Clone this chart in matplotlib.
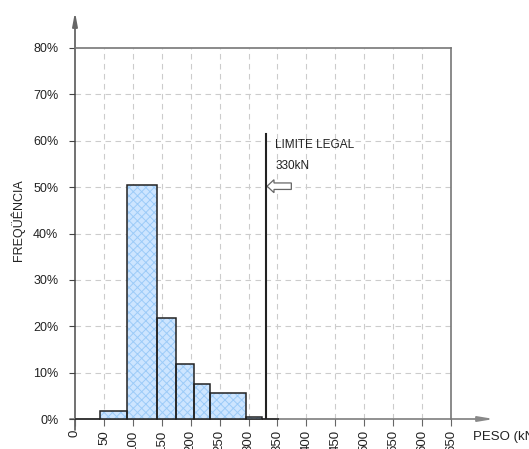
import matplotlib
matplotlib.use("Agg")
import matplotlib.pyplot as plt
from matplotlib.patches import FancyArrow

plt.rcParams['font.family'] = ['Liberation Sans', 'DejaVu Sans']
plt.rcParams['hatch.linewidth'] = 0.7

# data
bin_edges = [0, 44, 90, 142, 174, 205, 233, 295, 324, 352]
freq_pct = [0, 1.8, 50.4, 21.7, 11.8, 7.5, 5.5, 0.4, 0]
x_ticks = list(range(0, 651, 50))
x_ticklabels = [str(v) for v in x_ticks]
y_ticks = list(range(0, 81, 10))
y_ticklabels = [f"{v}%" for v in y_ticks]
limit_kn = 330
limit_top = 61.5
arrow_y = 50.2

fig = plt.figure(figsize=(5.29, 4.49), dpi=100)
ax = fig.add_axes([75/529, 1-419/449, 376/529, 371/449])
ax.set_xlim(0, 650)
ax.set_ylim(0, 80)

lefts = bin_edges[:-1]
widths = [b - a for a, b in zip(bin_edges[:-1], bin_edges[1:])]
ax.bar(lefts, freq_pct, width=widths, align='edge', facecolor='#cde5ff',
       edgecolor='#9ccbf8', hatch='xxxx', linewidth=0, zorder=2)
ax.bar(lefts, freq_pct, width=widths, align='edge', facecolor='none',
       edgecolor='#222222', linewidth=1.1, zorder=6, clip_on=False)

# grid
for v in x_ticks[1:-1]:
    ax.axvline(v, color='#cccccc', lw=0.8, ls=(0, (5, 4)), zorder=1)
for v in y_ticks[1:-1]:
    ax.axhline(v, color='#cccccc', lw=0.8, ls=(0, (5, 4)), zorder=1)

# spines
for s in ['left', 'bottom']:
    ax.spines[s].set_visible(False)
ax.spines['top'].set_color('#777777')
ax.spines['right'].set_color('#777777')
ax.spines['top'].set_linewidth(1.2)
ax.spines['right'].set_linewidth(1.2)

# axes arrows
a1 = ax.annotate('', xy=(75/529, 1-12/449), xycoords='figure fraction',
                 xytext=(75/529, 1-430/449), textcoords='figure fraction',
                 arrowprops=dict(arrowstyle='-|>,head_length=0.8,head_width=0.15',
                                 color='#666666', lw=1.3, shrinkA=0, shrinkB=0))
a2 = ax.annotate('', xy=(494/529, 1-419/449), xycoords='figure fraction',
                 xytext=(70/529, 1-419/449), textcoords='figure fraction',
                 arrowprops=dict(arrowstyle='-|>,head_length=0.9,head_width=0.15',
                                 color='#888888', lw=1.3, shrinkA=0, shrinkB=0))
a1.set_zorder(1.5)
a2.set_zorder(1.5)

ax.set_xticks(x_ticks)
ax.set_xticklabels(x_ticklabels, rotation=90, fontsize=9.5, color='#222222')
ax.set_yticks(y_ticks)
ax.set_yticklabels(y_ticklabels, fontsize=9, color='#222222')
ax.tick_params(axis='x', direction='out', length=5, color='#666666', pad=3)
ax.tick_params(axis='y', direction='out', length=4, color='#444444', pad=8)
for lab in ax.get_xticklabels():
    lab.set_verticalalignment('top')

# legal limit
ax.plot([limit_kn, limit_kn], [0, limit_top], color='#222222', lw=1.5, zorder=7)
ax.text(limit_kn + 16, 58.4, 'LIMITE LEGAL', fontsize=8.5, color='#222222')
ax.text(limit_kn + 16, 54.0, '330kN', fontsize=8.5, color='#222222')
ax.add_patch(FancyArrow(limit_kn + 44, arrow_y, -42, 0, width=1.4, head_width=2.8,
                        head_length=12, length_includes_head=True,
                        facecolor='white', edgecolor='#666666', lw=0.9, zorder=5))

fig.text(473/529, 1-437/449, 'PESO (kN)', fontsize=9.5, color='#222222', va='center')
fig.text(18/529, 1-220/449, 'FREQÜÊNCIA', fontsize=9, color='#222222',
         rotation=90, va='center', ha='center')

fig.savefig('out.png', dpi=100)
